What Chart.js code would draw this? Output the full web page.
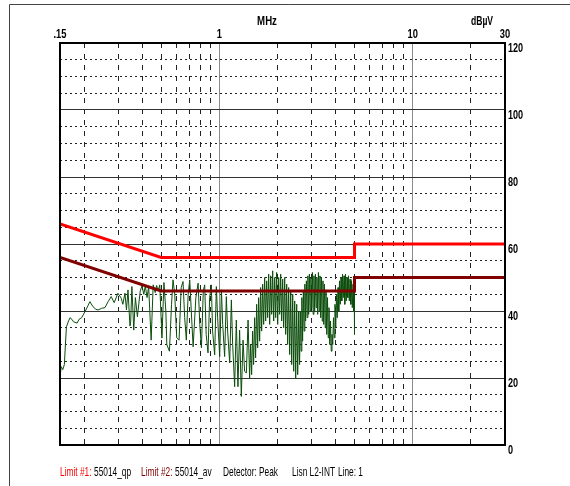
<!DOCTYPE html>
<html>
<head>
<meta charset="utf-8">
<script src="https://cdn.jsdelivr.net/npm/chart.js@4.4.0/dist/chart.umd.min.js"></script>
<style>
  html, body { margin: 0; padding: 0; background: #fff; }
</style>
</head>
<body>
<canvas id="emi" width="570" height="486"></canvas>
<script>
// peak scan, MHz / dBuV
const traceFreq = [
  0.151, 0.152, 0.155, 0.158, 0.160, 0.162, 0.166, 0.169, 0.173, 0.176,
  0.184, 0.188, 0.194, 0.202, 0.209, 0.214, 0.222, 0.230, 0.236, 0.246,
  0.256, 0.266, 0.276, 0.286, 0.299, 0.311, 0.317, 0.325, 0.331, 0.337,
  0.345, 0.348, 0.353, 0.361, 0.368, 0.377, 0.390, 0.398, 0.407, 0.414,
  0.423, 0.431, 0.444, 0.455, 0.466, 0.474, 0.483, 0.492, 0.505,
  0.517, 0.529, 0.535, 0.552, 0.566, 0.576, 0.588, 0.602, 0.619, 0.635,
  0.649, 0.662, 0.675, 0.690, 0.703, 0.716, 0.732, 0.756, 0.777, 0.792,
  0.808, 0.826, 0.840, 0.855, 0.874, 0.891, 0.909, 0.923, 0.946, 0.965,
  0.980, 1.004, 1.025, 1.041, 1.065, 1.087, 1.104, 1.131, 1.154, 1.172,
  1.200, 1.224, 1.248, 1.273, 1.299, 1.326, 1.351, 1.380, 1.408,
  1.434, 1.451, 1.469, 1.486, 1.504, 1.522, 1.540, 1.559, 1.578, 1.597,
  1.616, 1.635, 1.655, 1.675, 1.695, 1.715, 1.736, 1.757, 1.778, 1.799,
  1.821, 1.843, 1.865, 1.887, 1.910, 1.933, 1.956, 1.979, 2.003, 2.027,
  2.051, 2.076, 2.101, 2.126, 2.151, 2.177, 2.203, 2.230, 2.256, 2.283,
  2.311, 2.339, 2.367, 2.395, 2.424, 2.453, 2.482, 2.512, 2.542, 2.573,
  2.600, 2.623, 2.647, 2.671, 2.695, 2.719, 2.744, 2.768, 2.793, 2.819,
  2.844, 2.870, 2.896, 2.922, 2.948, 2.975, 3.002, 3.029, 3.056, 3.084,
  3.111, 3.139, 3.168, 3.196, 3.225, 3.254, 3.283, 3.313, 3.343, 3.373,
  3.403, 3.434, 3.465, 3.496, 3.528, 3.559, 3.592, 3.624, 3.657, 3.690,
  3.723, 3.756, 3.790, 3.824,
  3.858, 3.893, 3.928, 3.963, 3.999, 4.035, 4.071, 4.108, 4.145, 4.182,
  4.220, 4.258, 4.296, 4.335, 4.374, 4.413, 4.453, 4.493, 4.533, 4.574,
  4.615, 4.657, 4.699, 4.741, 4.784, 4.827, 4.870, 4.914, 4.958, 4.985,
  5.000
];
const traceLevel = [
  21.5, 23.4, 22.5, 24.0, 30.0, 35.3, 37.0, 38.0, 37.5, 36.8,
  36.4, 37.5, 38.0, 39.8, 41.5, 42.8, 41.3, 40.5, 40.3, 40.8,
  41.0, 42.8, 44.3, 42.5, 45.3, 43.8, 42.0, 45.3, 40.3, 46.3,
  35.5, 36.8, 47.3, 34.3, 44.0, 38.3, 46.0, 47.5, 45.0, 47.5,
  44.0, 47.3, 31.3, 47.8, 45.5, 47.6, 46.0, 47.8, 31.9,
  48.5, 40.0, 30.0, 28.0, 42.0, 49.3, 45.0, 32.0, 31.3, 47.0,
  48.8, 38.0, 31.3, 45.0, 49.3, 40.0, 29.3, 44.0, 48.3, 36.0,
  29.0, 46.0, 47.8, 33.0, 27.5, 44.0, 47.8, 34.0, 26.9, 47.3,
  38.0, 26.4, 46.3, 36.0, 26.4, 44.3, 34.0, 24.5, 43.3, 30.0,
  17.4, 37.3, 17.4, 34.3, 14.5, 31.3, 22.0, 21.5, 37.3,
  20.0, 30.0, 21.0, 34.0, 24.0, 38.0, 26.0, 42.0, 29.0, 44.0,
  31.0, 47.0, 34.0, 48.0, 36.0, 50.0, 37.0, 49.0, 38.0, 51.0,
  36.0, 50.5, 39.0, 52.0, 37.0, 50.0, 38.0, 51.5, 36.0, 50.0,
  39.0, 51.0, 37.0, 49.5, 35.0, 50.0, 33.0, 48.0, 30.0, 47.0,
  27.0, 46.0, 24.0, 45.0, 22.0, 43.0, 20.0, 42.0, 21.0, 40.0,
  24.0, 40.0, 28.0, 44.0, 31.0, 46.0, 34.0, 48.0, 37.0, 49.0,
  38.0, 50.5, 39.0, 51.0, 40.0, 50.0, 41.0, 51.5, 39.0, 50.5,
  40.0, 51.0, 41.0, 50.0, 39.0, 51.5, 40.0, 50.5, 38.0, 50.0,
  37.0, 49.0, 36.0, 48.0, 35.0, 46.0, 33.0, 44.0, 32.0, 41.0,
  30.0, 37.0, 28.0, 33.0,
  30.0, 38.0, 32.0, 42.0, 35.0, 45.0, 38.0, 47.0, 40.0, 49.0,
  42.0, 50.0, 43.0, 51.0, 44.0, 50.5, 42.0, 51.0, 43.0, 50.0,
  44.0, 50.5, 43.0, 49.5, 42.0, 49.0, 41.0, 48.0, 40.0, 46.0,
  33.0
];

// EN 55014 limits
const qpFreq = [0.15, 0.5, 5, 5, 30];
const qpLevel = [66, 56, 56, 60, 60];
const avFreq = [0.15, 0.5, 5, 5, 30];
const avLevel = [56, 46, 46, 50, 50];

const freqTicks = [0.15, 0.2, 0.3, 0.4, 0.5, 0.6, 0.7, 0.8, 0.9, 1,
  2, 3, 4, 5, 6, 7, 8, 9, 10, 20, 30];
const freqLabels = [[0.15, ".15"], [1, "1"], [10, "10"], [30, "30"]];
const levelLabels = [0, 20, 40, 60, 80, 100, 120];

const FONT = "'Liberation Sans', Arial, sans-serif";

const toPoints = (xs, ys) => xs.map((x, i) => ({ x: x, y: ys[i] }));

// the original uses a narrow font, squeeze Liberation Sans to get close
function narrow(ctx, text, x, y, sx) {
  ctx.save();
  ctx.translate(x, y);
  ctx.scale(sx, 1);
  ctx.fillText(text, 0, 0);
  ctx.restore();
}

const frame = {
  id: "frame",
  beforeDraw(chart) {
    const ctx = chart.ctx;
    ctx.save();
    ctx.fillStyle = "#fff";
    ctx.fillRect(0, 0, chart.width, chart.height);
    ctx.strokeStyle = "#444";
    ctx.lineWidth = 1;
    ctx.beginPath();
    ctx.moveTo(9.5, chart.height);
    ctx.lineTo(9.5, 4.5);
    ctx.lineTo(chart.width, 4.5);
    ctx.stroke();
    ctx.restore();
  },
  afterDraw(chart) {
    const ctx = chart.ctx;
    const a = chart.chartArea;
    const xs = chart.scales.x;
    const ys = chart.scales.y;
    ctx.save();
    ctx.strokeStyle = "#000";
    ctx.lineWidth = 2;
    ctx.strokeRect(a.left, a.top, a.right - a.left, a.bottom - a.top);

    ctx.fillStyle = "#000";
    ctx.font = "bold 13px " + FONT;
    ctx.textAlign = "center";
    ctx.textBaseline = "alphabetic";
    narrow(ctx, "MHz", 267, 25, 0.74);
    narrow(ctx, "dBµV", 482, 25, 0.66);
    freqLabels.forEach(([v, t]) => {
      narrow(ctx, t, xs.getPixelForValue(v), 38, 0.72);
    });

    ctx.textAlign = "left";
    ctx.textBaseline = "top";
    levelLabels.forEach((v) => {
      narrow(ctx, String(v), a.right + 3, ys.getPixelForValue(v) - 1, 0.7);
    });

    ctx.font = "13px " + FONT;
    ctx.textBaseline = "alphabetic";
    const legend = [
      ["Limit #1:", "#ff0000", 60],
      ["55014_qp", "#000", 94],
      ["Limit #2:", "#800000", 141],
      ["55014_av", "#000", 175],
      ["Detector: Peak", "#000", 223],
      ["Lisn L2-INT", "#000", 292],
      ["Line: 1", "#000", 338]
    ];
    legend.forEach(([t, c, x]) => {
      ctx.fillStyle = c;
      narrow(ctx, t, x, 476, 0.64);
    });
    ctx.restore();
  }
};

new Chart(document.getElementById("emi"), {
  type: "line",
  data: {
    datasets: [
      {
        label: "Limit #1: 55014_qp",
        data: toPoints(qpFreq, qpLevel),
        borderColor: "#ff0000",
        borderWidth: 3,
        order: 0
      },
      {
        label: "Limit #2: 55014_av",
        data: toPoints(avFreq, avLevel),
        borderColor: "#800000",
        borderWidth: 3,
        order: 1
      },
      {
        label: "Peak",
        data: toPoints(traceFreq, traceLevel),
        borderColor: "#0b4d0b",
        borderWidth: 1,
        order: 2
      }
    ]
  },
  options: {
    responsive: false,
    animation: false,
    layout: { padding: { left: 60, top: 0, right: 0, bottom: 41 } },
    elements: { point: { radius: 0 }, line: { tension: 0 } },
    plugins: {
      legend: { display: false },
      tooltip: { enabled: false }
    },
    scales: {
      x: {
        type: "logarithmic",
        position: "top",
        min: 0.15,
        max: 30,
        afterBuildTicks: (scale) => {
          scale.ticks = freqTicks.map((v) => ({ value: v }));
        },
        afterFit: (scale) => {
          scale.height = 43;
        },
        ticks: { display: false, autoSkip: false },
        grid: {
          drawTicks: false,
          color: (c) => {
            const v = c.tick && c.tick.value;
            if (v === 0.15 || v === 30) return "rgba(0,0,0,0)";
            if (v === 1 || v === 10) return "#8a8a8a";
            return "#222";
          }
        },
        border: {
          display: false,
          dash: (c) => {
            const v = c.tick && c.tick.value;
            return v === 1 || v === 10 ? [] : [5, 6];
          }
        }
      },
      y: {
        type: "linear",
        position: "right",
        min: 0,
        max: 120,
        afterFit: (scale) => {
          scale.width = 65;
        },
        ticks: { display: false, stepSize: 5, autoSkip: false },
        grid: {
          drawTicks: false,
          color: (c) => {
            const v = c.tick && c.tick.value;
            if (v === 0 || v === 120) return "rgba(0,0,0,0)";
            return v % 20 === 0 ? "#333" : "#222";
          }
        },
        border: {
          display: false,
          dash: (c) => {
            const v = c.tick && c.tick.value;
            return v % 20 === 0 ? [] : [2, 3];
          }
        }
      }
    }
  },
  plugins: [frame]
});
</script>
</body>
</html>
